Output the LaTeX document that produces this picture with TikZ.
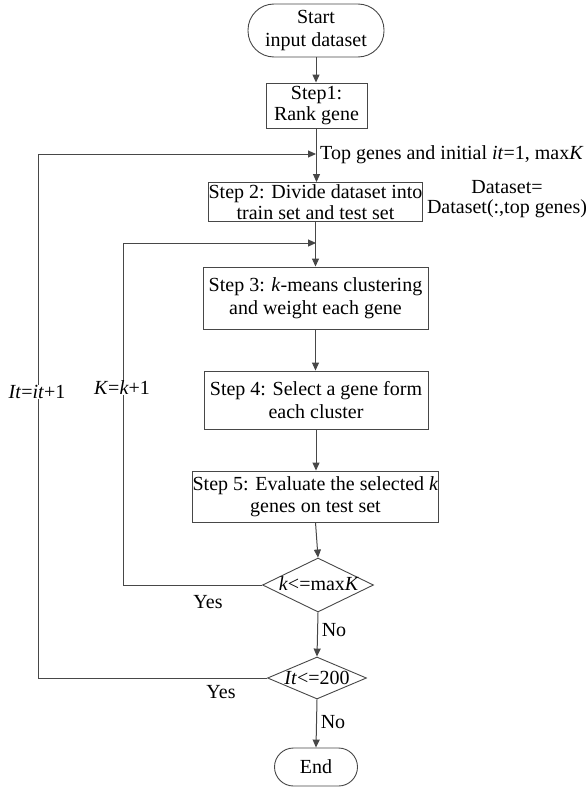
\documentclass[tikz,border=0pt]{standalone}
\usepackage{fontspec}
\setmainfont{Liberation Serif}
\usetikzlibrary{arrows.meta,shapes.geometric}
\begin{document}
\begin{tikzpicture}[x=1pt,y=-1pt,
  font=\fontsize{20}{22.5}\selectfont,
  line/.style={draw=black!72, line width=1pt},
  arr/.style={line, -{Triangle[length=8pt,width=7pt]}},
  box/.style={draw=black!72, line width=0.9pt, rectangle, inner sep=0pt, align=center},
  term/.style={box},
  dia/.style={diamond, draw=black!72, line width=0.9pt, inner sep=0pt},
  lbl/.style={inner sep=1pt, align=center}]
\useasboundingbox (0,0) rectangle (586,787);

\node[term, minimum width=136pt, minimum height=53pt, rounded corners=26pt] (start) at (316,30.5) {Start\\input dataset};
\node[box, minimum width=101pt, minimum height=45pt, font=\fontsize{20}{21}\selectfont] (s1) at (316.5,105.5) {Step1:\\Rank gene};
\node[box, minimum width=213pt, minimum height=39pt, font=\fontsize{20}{20.5}\selectfont] (s2) at (315.5,202) {Step 2: Divide dataset into\\train set and test set};
\node[box, minimum width=225pt, minimum height=62pt] (s3) at (315.5,298) {Step 3: \textit{k}-means clustering\\and weight each gene};
\node[box, minimum width=224pt, minimum height=58pt] (s4) at (316,400) {Step 4: Select a gene form\\each cluster};
\node[box, minimum width=245pt, minimum height=51pt] (s5) at (315.5,496.5) {Step 5: Evaluate the selected \textit{k}\\genes on test set};
\node[dia, minimum width=111pt, minimum height=54pt] (d1) at (318,585) {};
\node[inner sep=0pt] (t1) at (319,584) {\textit{k}<=max\textit{K}};
\node[dia, minimum width=99pt, minimum height=42pt] (d2) at (317,678) {};
\node[inner sep=0pt] (t2) at (317,678) {\textit{It}<=200};
\node[term, minimum width=83pt, minimum height=38pt, rounded corners=19pt] (end) at (316,767) {End};

\coordinate (j1) at (316,154);
\coordinate (j2) at (316,243);
\coordinate (c1) at (38,154);
\coordinate (c2) at (123,243);

\draw[arr] (start.south) -- (start.south |- s1.north);
\draw[arr] (s1.south) -- (s1.south |- s2.north);
\draw[arr] (s2.south) -- (s2.south |- s3.north);
\draw[arr] (s3.south) -- (s3.south |- s4.north);
\draw[arr] (s4.south) -- (s4.south |- s5.north);
\draw[arr] (s5.south) -- (d1.north);
\draw[arr] (d1.south) -- (d2.north);
\draw[arr] (d2.south) -- (end.north);

\draw[arr] (d1.west) -| (c2) -- (j2);
\draw[arr] (d2.west) -| (c1) -- (j1);

\node[lbl, fill=white, inner sep=0pt] (kl) at (122,388) {\textit{K}=\textit{k}+1};
\node[lbl, fill=white, inner sep=0pt] (il) at (37,392) {\textit{It}=\textit{it}+1};
\node[lbl] (y1) at (208,602) {Yes};
\node[lbl] (y2) at (221,692) {Yes};
\node[lbl] (n1) at (334,630) {No};
\node[lbl] (n2) at (333,722) {No};
\node[lbl, anchor=west, inner sep=0pt] (tg) at (320,155) {Top genes and initial \textit{it}=1, max\textit{K}};
\node[lbl, font=\fontsize{20}{20.5}\selectfont] (ds) at (507,199) {Dataset=\\Dataset(:,top genes)};
\end{tikzpicture}
\end{document}
